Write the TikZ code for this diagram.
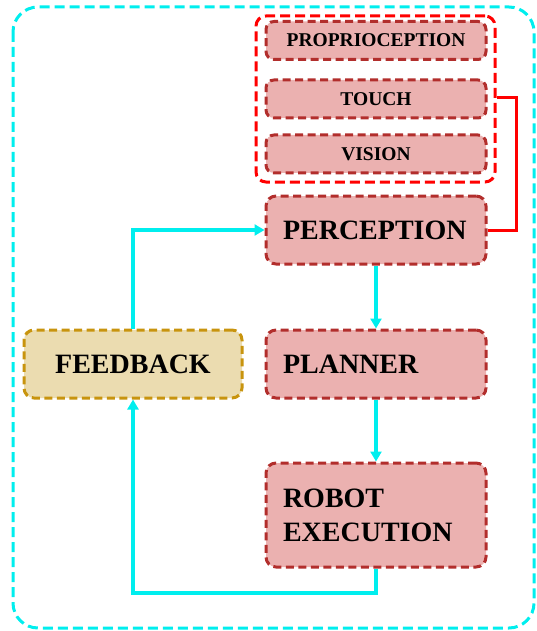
\documentclass[tikz,border=0pt]{standalone}
\usepackage{fontspec}
\setmainfont{Liberation Serif}
\usetikzlibrary{arrows.meta}

\definecolor{boxfill}{HTML}{EBB1B0}
\definecolor{boxline}{HTML}{B22E2C}
\definecolor{fbfill}{HTML}{EBDCB0}
\definecolor{fbline}{HTML}{C8940E}
\definecolor{loopcyan}{HTML}{00EEEE}

\begin{document}
\begin{tikzpicture}[x=1pt,y=-1pt,
	stagebox/.style={draw=boxline,fill=boxfill,line width=3pt,dash pattern=on 8pt off 4.5pt,rounded corners=10pt,
		minimum width=220pt,inner xsep=17pt,text width=186pt,align=left,font=\bfseries\fontsize{28}{34}\selectfont},
	sensebox/.style={draw=boxline,fill=boxfill,line width=3pt,dash pattern=on 8pt off 4.5pt,rounded corners=8pt,
		minimum width=220pt,minimum height=38pt,font=\bfseries\fontsize{19.5}{22}\selectfont},
	flow/.style={draw=loopcyan,line width=3.3pt,-{Triangle[length=10pt,width=11pt]}}]
	\useasboundingbox (0,0) rectangle (537,631);
	\draw[loopcyan,line width=3pt,dash pattern=on 10pt off 5pt,rounded corners=25pt] (13,7) rectangle (534,628);
	% sensing group
	\node[draw=red,line width=3pt,dash pattern=on 10pt off 5pt,rounded corners=10pt,minimum width=239pt,minimum height=166pt] (senses) at (375.5,99) {};
	\node[sensebox] (proprio) at (376,40.5) {PROPRIOCEPTION};
	\node[sensebox] (touch) at (376,99) {TOUCH};
	\node[sensebox] (vision) at (376,154) {VISION};
	% main chain
	\node[stagebox,minimum height=68pt] (perception) at (376,230) {PERCEPTION};
	\node[stagebox,minimum height=68pt] (planner) at (376,364) {PLANNER};
	\node[stagebox,minimum height=104pt] (robot) at (376,515) {ROBOT\\EXECUTION};
	\node[draw=fbline,fill=fbfill,line width=3pt,dash pattern=on 8pt off 4.5pt,rounded corners=10pt,
		minimum width=218pt,minimum height=68pt,font=\bfseries\fontsize{28}{34}\selectfont] (feedback) at (133,364) {FEEDBACK};
	\coordinate (redturn) at (516,98);
	\coordinate (loopturn) at (133,593);
	\draw[red,line width=3pt] (senses.east |- redturn) -- (redturn) |- (perception.east);
	\draw[flow] (perception.south) -- (planner.north);
	\draw[flow] (planner.south) -- (robot.north);
	\draw[flow] (robot.south) |- (loopturn) -- (feedback.south);
	\draw[flow] (feedback.north) |- (perception.west);
\end{tikzpicture}
\end{document}
